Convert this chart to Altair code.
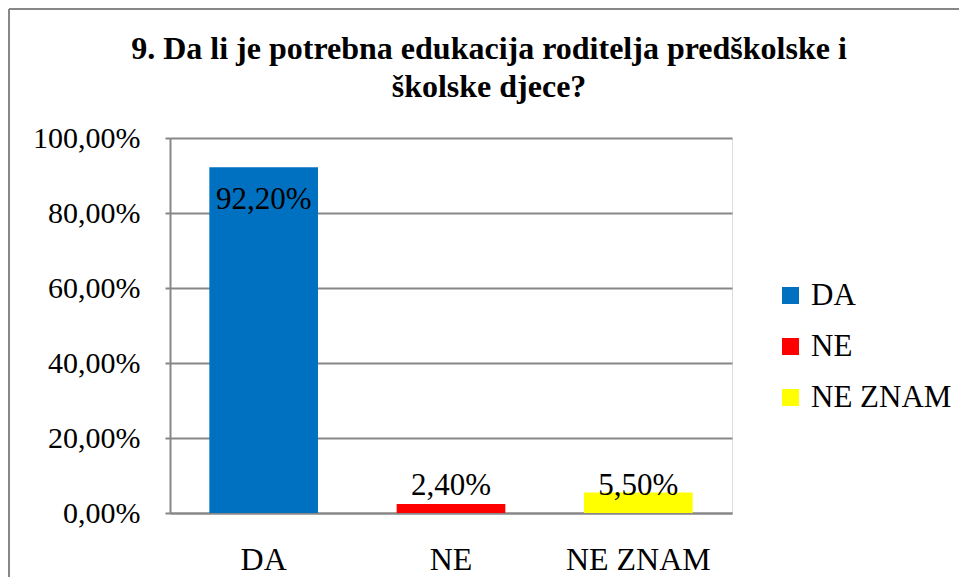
import altair as alt
import pandas as pd

categories = ["DA", "NE", "NE ZNAM"]
values = [0.922, 0.024, 0.055]
colors = ["#0070C0", "#FF0000", "#FFFF00"]
y_ticks = [0, 0.2, 0.4, 0.6, 0.8, 1.0]
title_lines = ["9. Da li je potrebna edukacija roditelja predškolske i", "školske djece?"]

df = pd.DataFrame({"odgovor": categories, "vrijednost": values})

FONT = "Liberation Serif"
GRAY = "#878787"

pct_expr = "replace(format(datum.vrijednost*100, '.2f'), '.', ',') + '%'"

x_enc = alt.X(
    "odgovor:N",
    sort=categories,
    scale=alt.Scale(paddingInner=0.42, paddingOuter=0.21),
    axis=alt.Axis(
        title=None, labelAngle=0, ticks=False, tickSize=0, labelPadding=56,
        labelBaseline="alphabetic", labelFont=FONT, labelFontSize=32,
        labelColor="black", domainColor=GRAY, domainWidth=2, grid=False,
    ),
)

y_scale = alt.Scale(domain=[0, 1], nice=False)

bars = alt.Chart(df).mark_bar().encode(
    x=x_enc,
    y=alt.Y(
        "vrijednost:Q",
        scale=y_scale,
        axis=alt.Axis(
            title=None, values=y_ticks,
            labelExpr="replace(format(datum.value*100, '.2f'), '.', ',') + '%'",
            labelFont=FONT, labelFontSize=30, labelColor="black",
            labelPadding=25, tickSize=5, tickColor=GRAY, tickWidth=2,
            domainColor=GRAY, domainWidth=2,
            grid=True, gridColor=GRAY, gridWidth=2,
        ),
    ),
    color=alt.Color(
        "odgovor:N",
        sort=categories,
        scale=alt.Scale(domain=categories, range=colors),
        legend=alt.Legend(
            title=None, orient="none", legendX=605, legendY=142,
            symbolType="square", symbolSize=289, symbolStrokeWidth=0,
            labelFont=FONT, labelFontSize=31, labelColor="black",
            labelOffset=5, rowPadding=19, padding=0,
        ),
    ),
)

label_inside = alt.Chart(df).transform_filter(
    "datum.vrijednost > 0.5"
).transform_calculate(
    lbl=pct_expr
).mark_text(
    font=FONT, fontSize=31, color="black", baseline="alphabetic", dy=42
).encode(
    x=alt.X("odgovor:N", sort=categories),
    y=alt.Y("vrijednost:Q", scale=y_scale),
    text="lbl:N",
)

label_outside = alt.Chart(df).transform_filter(
    "datum.vrijednost <= 0.5"
).transform_calculate(
    lbl=pct_expr,
    pos="max(datum.vrijednost, 0.055)",
).mark_text(
    font=FONT, fontSize=31, color="black", baseline="alphabetic", dy=3
).encode(
    x=alt.X("odgovor:N", sort=categories),
    y=alt.Y("pos:Q", scale=y_scale),
    text="lbl:N",
)

frame_top = alt.Chart(df).mark_rule(color=GRAY, strokeWidth=2).encode(
    x=alt.value(-161), x2=alt.value(800), y=alt.value(-129)
)
frame_left = alt.Chart(df).mark_rule(color=GRAY, strokeWidth=2).encode(
    x=alt.value(-161), y=alt.value(-129), y2=alt.value(450)
)

chart = alt.layer(bars, label_inside, label_outside, frame_top, frame_left).properties(
    width=562,
    height=375,
    autosize=alt.AutoSizeParams(type="none"),
    padding={"left": 170, "top": 138, "right": 227, "bottom": 64},
    title=alt.TitleParams(
        text=title_lines, font=FONT, fontSize=32, fontWeight="bold", color="black",
        anchor="middle", frame="group", dx=38, dy=106, lineHeight=38, offset=10,
    ),
).configure_view(stroke=None).configure(background="white")

chart.save("out.html", embed_options={"renderer": "svg", "actions": False})
